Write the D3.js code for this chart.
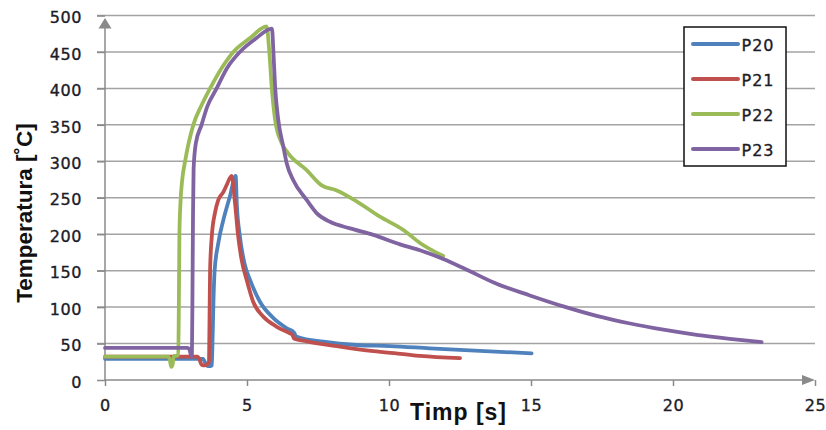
<!DOCTYPE html>
<html>
<head>
<meta charset="utf-8">
<script src="https://cdn.jsdelivr.net/npm/d3@7"></script>
<style>
  html, body { margin: 0; padding: 0; background: #ffffff; }
  svg { display: block; }
</style>
</head>
<body>
<svg id="chart" width="826" height="430"></svg>
<script>
// Temperature records of four measuring points (time in s, temperature in °C)
const seriesNames = ["P20", "P21", "P22", "P23"];
const seriesColors = ["#4F81BD", "#C0504D", "#9BBB59", "#8064A2"];

const p20Time = [0, 1, 2, 3, 3.45, 3.55, 3.62, 3.72, 3.76, 3.79, 3.82, 3.86, 3.99, 4.17, 4.40, 4.60, 4.64, 4.75, 4.93, 5.11, 5.46, 5.93, 6.40, 6.66, 6.72, 6.81, 7.69, 8.86, 10.04, 11.44, 13.2, 15.02];
const p20Temp = [29, 29, 29, 29, 29, 22, 19, 19, 20, 60, 110, 150, 188, 220, 252, 280, 242, 197, 157, 137, 107, 85, 71, 65, 60, 58.5, 52.6, 48, 46.5, 43.5, 40, 36.6];

const p21Time = [0, 1, 2, 3, 3.25, 3.33, 3.40, 3.52, 3.62, 3.66, 3.68, 3.70, 3.76, 3.87, 3.99, 4.17, 4.29, 4.46, 4.58, 4.69, 4.81, 4.99, 5.22, 5.57, 6.05, 6.51, 6.60, 6.65, 7.10, 8.27, 9.45, 10.5, 11.09, 12.5];
const p21Temp = [32, 32, 32, 32, 32, 28, 21, 20, 22, 25, 80, 150, 197, 229, 247, 258, 268, 280, 242, 197, 165, 137, 107, 87, 73, 64, 62, 57, 53, 45.7, 39.5, 35.5, 33, 30];

const p22Time = [0, 1, 2, 2.22, 2.28, 2.33, 2.38, 2.42, 2.50, 2.58, 2.60, 2.62, 2.66, 2.72, 2.82, 3.11, 3.40, 3.70, 4.11, 4.52, 5.11, 5.69, 5.79, 5.87, 5.99, 6.22, 6.45, 7.10, 7.63, 8.16, 8.86, 9.68, 10.50, 11.09, 11.91];
const p22Temp = [32, 32, 32, 32, 28, 18, 21, 33, 33, 34, 100, 200, 245, 275, 300, 350, 377, 400, 428, 450, 469, 485, 448, 402, 357, 325, 311, 288, 267, 260, 245, 224, 206, 188, 170];

const p23Time = [0, 1, 2, 2.9, 2.97, 3.02, 3.06, 3.08, 3.10, 3.12, 3.20, 3.40, 3.60, 3.93, 4.30, 4.75, 5.30, 5.88, 5.93, 5.99, 6.10, 6.28, 6.40, 6.63, 7.10, 7.45, 7.92, 8.63, 9.45, 10.39, 11.09, 11.91, 12.7, 13.79, 14.96, 16.14, 17.31, 18.49, 19.66, 20.83, 22.0, 23.12];
const p23Temp = [44, 44, 44, 44, 42, 35, 33, 120, 230, 290, 325, 350, 375, 400, 428, 450, 468, 482, 450, 402, 357, 320, 297, 274, 247, 229, 217, 208, 199, 186, 178, 166, 152, 132, 116, 101, 88, 77.5, 69, 62, 56.5, 52];

const xTicks = [0, 5, 10, 15, 20, 25];
const yTicks = [0, 50, 100, 150, 200, 250, 300, 350, 400, 450, 500];

const xTitle = "Timp [s]";
const yTitle = "Temperatura [˚C]";

const seriesData = [
  p20Time.map((t, i) => ({ t, v: p20Temp[i] })),
  p21Time.map((t, i) => ({ t, v: p21Temp[i] })),
  p22Time.map((t, i) => ({ t, v: p22Temp[i] })),
  p23Time.map((t, i) => ({ t, v: p23Temp[i] }))
];

const svg = d3.select("#chart");
const x = d3.scaleLinear().domain([0, 25]).range([105, 815]);
const y = d3.scaleLinear().domain([0, 500]).range([380, 15.5]);

const tickFont = "'DejaVu Sans', Verdana, sans-serif";
const titleFont = "'Liberation Sans', Arial, sans-serif";
const textColor = "#1c1c28";
const axisColor = "#8a8a8a";

// horizontal gridlines (with their left tick stubs)
svg.append("g")
  .selectAll("line")
  .data(yTicks.filter(d => d > 0))
  .join("line")
  .attr("x1", x(0) - 8).attr("x2", x(25))
  .attr("y1", d => y(d)).attr("y2", d => y(d))
  .attr("stroke", "#a3a3a3")
  .attr("stroke-width", 1.5);

// y axis labels and ticks
const yAxis = svg.append("g")
  .attr("transform", `translate(${x(0)},0)`)
  .call(d3.axisLeft(y).tickValues(yTicks).tickSize(8).tickPadding(15));
yAxis.select(".domain").remove();
yAxis.selectAll(".tick line").attr("stroke", axisColor).attr("stroke-width", 1.5);
yAxis.selectAll(".tick text")
  .attr("font-family", tickFont)
  .attr("font-size", 16)
  .attr("letter-spacing", 0.6)
  .attr("fill", textColor)
  .attr("stroke", textColor)
  .attr("stroke-width", 0.35)
  .attr("dy", "0.45em");

// x axis labels and ticks
const xAxis = svg.append("g")
  .attr("transform", `translate(0,${y(0)})`)
  .call(d3.axisBottom(x).tickValues(xTicks).tickSize(6).tickPadding(14));
xAxis.select(".domain").remove();
xAxis.selectAll(".tick line").attr("stroke", axisColor).attr("stroke-width", 1.5);
xAxis.selectAll(".tick text")
  .attr("font-family", tickFont)
  .attr("font-size", 16)
  .attr("letter-spacing", 0.6)
  .attr("fill", textColor)
  .attr("stroke", textColor)
  .attr("stroke-width", 0.35);

// axis lines with arrow heads
svg.append("line")
  .attr("x1", x(0)).attr("x2", x(0))
  .attr("y1", y(0)).attr("y2", 26)
  .attr("stroke", axisColor).attr("stroke-width", 1.5);
svg.append("path")
  .attr("d", `M${x(0) - 6.5},28.5 L${x(0)},18 L${x(0) + 6.5},28.5 Z`)
  .attr("fill", axisColor);
svg.append("line")
  .attr("x1", x(0)).attr("x2", 805)
  .attr("y1", y(0)).attr("y2", y(0))
  .attr("stroke", axisColor).attr("stroke-width", 1.5);
svg.append("path")
  .attr("d", `M802,${y(0) - 5} L815,${y(0)} L802,${y(0) + 5} Z`)
  .attr("fill", axisColor);

// temperature curves
const line = d3.line()
  .x(d => x(d.t))
  .y(d => y(d.v))
  .curve(d3.curveMonotoneX);

svg.append("g")
  .selectAll("path")
  .data(seriesData)
  .join("path")
  .attr("d", line)
  .attr("fill", "none")
  .attr("stroke", (d, i) => seriesColors[i])
  .attr("stroke-width", 3.8)
  .attr("stroke-linejoin", "round")
  .attr("stroke-linecap", "round");

// axis titles
svg.append("text")
  .attr("transform", "translate(31.5,213) rotate(-90)")
  .attr("text-anchor", "middle")
  .attr("font-family", titleFont)
  .attr("font-weight", "bold")
  .attr("font-size", 22.5)
  .attr("fill", "#111")
  .text(yTitle);

svg.append("text")
  .attr("x", 410).attr("y", 420)
  .attr("font-family", titleFont)
  .attr("font-weight", "bold")
  .attr("font-size", 23)
  .attr("letter-spacing", 1)
  .attr("fill", "#111")
  .text(xTitle);

// legend
const legend = svg.append("g");
legend.append("rect")
  .attr("x", 684).attr("y", 27)
  .attr("width", 102).attr("height", 139)
  .attr("fill", "#fff")
  .attr("stroke", "#111")
  .attr("stroke-width", 1.5);
const rows = legend.selectAll("g.row")
  .data(seriesNames)
  .join("g")
  .attr("class", "row")
  .attr("transform", (d, i) => `translate(0,${44 + i * 35})`);
rows.append("line")
  .attr("x1", 693).attr("x2", 738)
  .attr("y1", 0).attr("y2", 0)
  .attr("stroke", (d, i) => seriesColors[i])
  .attr("stroke-width", 4)
  .attr("stroke-linecap", "round");
rows.append("text")
  .attr("x", 741.5).attr("y", 6.5)
  .attr("font-family", tickFont)
  .attr("font-size", 16)
  .attr("letter-spacing", 1)
  .attr("fill", textColor)
  .attr("stroke", textColor)
  .attr("stroke-width", 0.35)
  .text(d => d);
</script>
</body>
</html>
